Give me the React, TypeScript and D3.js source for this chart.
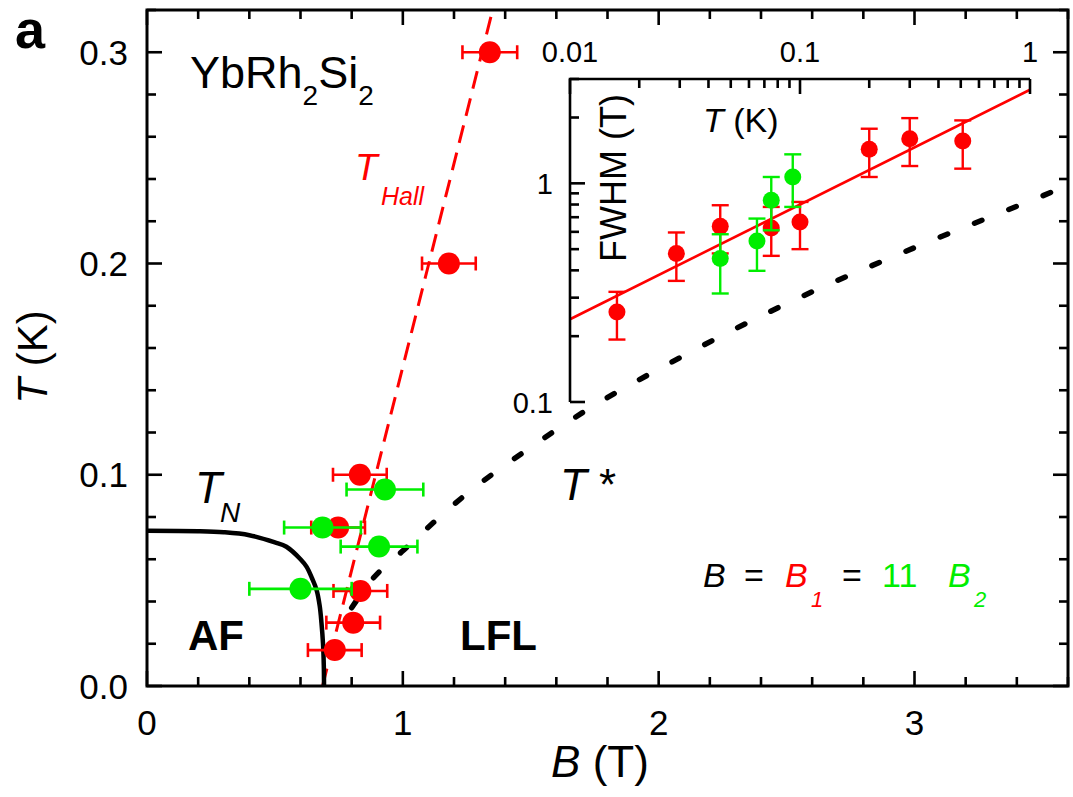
import React from "react";
import * as d3 from "d3";

// ---- Main panel data (B in T, T in K) ----
const redB = [0.734, 0.806, 0.834, 0.747, 0.832, 1.18, 1.34];
const redT = [0.017, 0.030, 0.045, 0.075, 0.100, 0.200, 0.300];
const redErr = [0.105, 0.105, 0.105, 0.105, 0.105, 0.105, 0.107];
const greenB = [0.600, 0.907, 0.686, 0.930];
const greenT = [0.046, 0.066, 0.075, 0.093];
const greenErr = [0.20, 0.15, 0.15, 0.15];

// T_N phase boundary
const tnB = [0, 0.2, 0.3, 0.4, 0.5, 0.545, 0.6, 0.624, 0.645, 0.663, 0.675, 0.682, 0.688, 0.691, 0.692];
const tnT = [0.0735, 0.0733, 0.0728, 0.0714, 0.068, 0.0659, 0.060, 0.0564, 0.051, 0.0454, 0.038, 0.0298, 0.020, 0.010, 0.0];
// T* crossover line
const tsB = [0.80, 0.87, 1.0, 1.25, 1.5, 1.75, 2.0, 2.5, 3.0, 3.5, 3.6];
const tsT = [0.037, 0.049, 0.064, 0.091, 0.113, 0.133, 0.150, 0.181, 0.2075, 0.232, 0.237];
// T_Hall line
const hallB = [0.686, 1.351];
const hallT = [0.0, 0.32];

// ---- Inset data (T in K, FWHM in T) ----
const inRedT = [0.016, 0.029, 0.045, 0.075, 0.1, 0.2, 0.3, 0.51];
const inRedF = [0.258, 0.478, 0.636, 0.625, 0.666, 1.43, 1.60, 1.56];
const inRedHi = [0.319, 0.596, 0.794, 0.780, 0.822, 1.777, 1.987, 1.94];
const inRedLo = [0.193, 0.358, 0.478, 0.466, 0.500, 1.069, 1.20, 1.167];
const inGreenT = [0.045, 0.065, 0.075, 0.093];
const inGreenF = [0.453, 0.545, 0.836, 1.069];
const inGreenHi = [0.585, 0.690, 1.069, 1.357];
const inGreenLo = [0.3135, 0.398, 0.610, 0.780];
const fitT = [0.01, 1];
const fitF = [0.239, 2.68];

// ticks
const xMajor = [0, 1, 2, 3];
const yMajor = [0, 0.1, 0.2, 0.3];
const yLabels = ["0.0", "0.1", "0.2", "0.3"];
const ixMajor = [0.01, 0.1, 1];
const ixLabels = ["0.01", "0.1", "1"];
const iyMajor = [0.1, 1];
const iyLabels = ["0.1", "1"];

const RED = "#ff0000";
const GREEN = "#00ee00";
const FONT = "'Liberation Sans', Arial, Helvetica, sans-serif";

export default function App() {
  const x = d3.scaleLinear().domain([0, 3.6]).range([147, 1068]);
  const y = d3.scaleLinear().domain([0, 0.32]).range([686, 10]);
  const ix = d3.scaleLog().domain([0.01, 1]).range([570, 1030]);
  const iy = d3.scaleLog().domain([0.1, 3]).range([402, 79]);

  const [x0, x1] = x.range();
  const [y0, y1] = y.range();

  const xMinor = d3.range(0, 3.6001, 0.2).filter((v) => !xMajor.some((m) => Math.abs(m - v) < 1e-6));
  const yMinor = d3.range(0, 0.3201, 0.02).filter((v) => !yMajor.some((m) => Math.abs(m - v) < 1e-6));

  const ixMinor: number[] = [];
  [0.01, 0.1].forEach((d) => { for (let k = 2; k <= 9; k++) ixMinor.push(d * k); });
  const iyMinor: number[] = [];
  for (let k = 2; k <= 9; k++) iyMinor.push(0.1 * k);
  [2, 3].forEach((k) => iyMinor.push(k));

  const line = d3.line<[number, number]>().x((d) => x(d[0])).y((d) => y(d[1]));
  const tnPath = d3.line<[number, number]>().x((d) => x(d[0])).y((d) => y(d[1])).curve(d3.curveCatmullRom)(tnB.map((b, i) => [b, tnT[i]]));
  const tsPath = d3.line<[number, number]>().x((d) => x(d[0])).y((d) => y(d[1])).curve(d3.curveMonotoneX)(tsB.map((b, i) => [b, tsT[i]]));
  const hallPath = line(hallB.map((b, i) => [b, hallT[i]]));
  const fitPath = d3.line<[number, number]>().x((d) => ix(d[0])).y((d) => iy(d[1]))(fitT.map((t, i) => [t, fitF[i]]));

  const MAJ = 15, MIN = 9;
  const capH = 7;

  const hErr = (b: number, t: number, e: number, color: string, key: string) => (
    <g key={key} stroke={color} strokeWidth={2.6} fill="none">
      <line x1={x(b - e)} x2={x(b + e)} y1={y(t)} y2={y(t)} />
      <line x1={x(b - e)} x2={x(b - e)} y1={y(t) - capH} y2={y(t) + capH} />
      <line x1={x(b + e)} x2={x(b + e)} y1={y(t) - capH} y2={y(t) + capH} />
    </g>
  );
  const vErr = (t: number, lo: number, hi: number, color: string, key: string) => (
    <g key={key} stroke={color} strokeWidth={2.4} fill="none">
      <line x1={ix(t)} x2={ix(t)} y1={iy(lo)} y2={iy(hi)} />
      <line x1={ix(t) - 8.5} x2={ix(t) + 8.5} y1={iy(lo)} y2={iy(lo)} />
      <line x1={ix(t) - 8.5} x2={ix(t) + 8.5} y1={iy(hi)} y2={iy(hi)} />
    </g>
  );

  return (
    <svg width={1073} height={797} style={{ position: "absolute", left: 0, top: 0, background: "#fff" }} fontFamily={FONT}>
      <defs>
        <clipPath id="mainClip">
          <rect x={x0} y={y1} width={x1 - x0} height={y0 - y1} />
        </clipPath>
      </defs>

      {/* lines */}
      <g clipPath="url(#mainClip)">
        <path d={tsPath || ""} fill="none" stroke="#000" strokeWidth={5.5} strokeDasharray="8 29" strokeLinecap="round" />
        <path d={hallPath || ""} fill="none" stroke={RED} strokeWidth={3} strokeDasharray="18 10" />
        <path d={tnPath || ""} fill="none" stroke="#000" strokeWidth={4.5} />
      </g>

      {/* main data */}
      {redB.map((b, i) => hErr(b, redT[i], redErr[i], RED, "re" + i))}
      {redB.map((b, i) => <circle key={"rc" + i} cx={x(b)} cy={y(redT[i])} r={11} fill={RED} />)}
      {greenB.map((b, i) => hErr(b, greenT[i], greenErr[i], GREEN, "ge" + i))}
      {greenB.map((b, i) => <circle key={"gc" + i} cx={x(b)} cy={y(greenT[i])} r={11} fill={GREEN} />)}

      {/* main frame */}
      <rect x={x0} y={y1} width={x1 - x0} height={y0 - y1} fill="none" stroke="#000" strokeWidth={3} />
      <g stroke="#000" strokeWidth={2.6}>
        {xMajor.map((v) => (
          <g key={"xM" + v}>
            <line x1={x(v)} x2={x(v)} y1={y0} y2={y0 - MAJ} />
            <line x1={x(v)} x2={x(v)} y1={y1} y2={y1 + MAJ} />
          </g>
        ))}
        {xMinor.map((v) => (
          <g key={"xm" + v}>
            <line x1={x(v)} x2={x(v)} y1={y0} y2={y0 - MIN} />
            <line x1={x(v)} x2={x(v)} y1={y1} y2={y1 + MIN} />
          </g>
        ))}
        {yMajor.map((v) => (
          <g key={"yM" + v}>
            <line x1={x0} x2={x0 + MAJ} y1={y(v)} y2={y(v)} />
            <line x1={x1} x2={x1 - MAJ} y1={y(v)} y2={y(v)} />
          </g>
        ))}
        {yMinor.map((v) => (
          <g key={"ym" + v}>
            <line x1={x0} x2={x0 + MIN} y1={y(v)} y2={y(v)} />
            <line x1={x1} x2={x1 - MIN} y1={y(v)} y2={y(v)} />
          </g>
        ))}
      </g>
      {xMajor.map((v) => (
        <text key={"xl" + v} x={x(v)} y={735} fontSize={35} textAnchor="middle">{v}</text>
      ))}
      {yMajor.map((v, i) => (
        <text key={"yl" + v} x={128} y={y(v) + 12.5} fontSize={35} textAnchor="end">{yLabels[i]}</text>
      ))}

      {/* axis titles */}
      <text x={600} y={777} fontSize={44} textAnchor="middle">
        <tspan fontStyle="italic">B</tspan> (T)
      </text>
      <text transform="translate(47,357) rotate(-90)" fontSize={42} textAnchor="middle">
        <tspan fontStyle="italic">T</tspan> (K)
      </text>

      {/* panel letter & annotations */}
      <text x={15} y={48} fontSize={54} fontWeight="bold">a</text>
      <text x={190} y={88} fontSize={45}>
        YbRh<tspan fontSize={28} dy={17}>2</tspan><tspan dy={-17}>Si</tspan><tspan fontSize={28} dy={17}>2</tspan>
      </text>
      <text x={355} y={180} fontSize={37} fill={RED} fontStyle="italic">T</text>
      <text x={381} y={205} fontSize={25} fill={RED} fontStyle="italic">Hall</text>
      <text x={195} y={503} fontSize={44} fontStyle="italic">T</text>
      <text x={220} y={522} fontSize={28} fontStyle="italic">N</text>
      <text x={560} y={500} fontSize={44}><tspan fontStyle="italic">T</tspan> *</text>
      <text x={188} y={650} fontSize={42} fontWeight="bold">AF</text>
      <text x={460} y={650} fontSize={42} fontWeight="bold">LFL</text>

      {/* B = B1 = 11 B2 */}
      <text y={587} fontSize={34}>
        <tspan x={703} fontStyle="italic">B</tspan>
        <tspan x={744}>=</tspan>
        <tspan x={785} fontStyle="italic" fill={RED}>B</tspan>
        <tspan x={811} dy={20} fontSize={22} fontStyle="italic" fill={RED}>1</tspan>
        <tspan x={842} dy={-20}>=</tspan>
        <tspan x={882} fill={GREEN}>11</tspan>
        <tspan x={948} fontStyle="italic" fill={GREEN}>B</tspan>
        <tspan x={974} dy={20} fontSize={22} fontStyle="italic" fill={GREEN}>2</tspan>
      </text>

      {/* inset */}
      <path d={fitPath || ""} fill="none" stroke={RED} strokeWidth={2.6} />
      {inRedT.map((t, i) => vErr(t, inRedLo[i], inRedHi[i], RED, "ire" + i))}
      {inRedT.map((t, i) => <circle key={"irc" + i} cx={ix(t)} cy={iy(inRedF[i])} r={8.5} fill={RED} />)}
      {inGreenT.map((t, i) => vErr(t, inGreenLo[i], inGreenHi[i], GREEN, "ige" + i))}
      {inGreenT.map((t, i) => <circle key={"igc" + i} cx={ix(t)} cy={iy(inGreenF[i])} r={8.5} fill={GREEN} />)}

      <g stroke="#000" strokeWidth={2.6} fill="none">
        <polyline points={`${ix.range()[0]},${iy.range()[0]} ${ix.range()[0]},${iy.range()[1]} ${ix.range()[1]},${iy.range()[1]}`} />
        {ixMajor.map((v) => <line key={"ixM" + v} x1={ix(v)} x2={ix(v)} y1={iy.range()[1]} y2={iy.range()[1] + 15} />)}
        {ixMinor.map((v) => <line key={"ixm" + v} x1={ix(v)} x2={ix(v)} y1={iy.range()[1]} y2={iy.range()[1] + 9} />)}
        {iyMajor.map((v) => <line key={"iyM" + v} x1={ix.range()[0]} x2={ix.range()[0] + 15} y1={iy(v)} y2={iy(v)} />)}
        {iyMinor.map((v) => <line key={"iym" + v} x1={ix.range()[0]} x2={ix.range()[0] + 9} y1={iy(v)} y2={iy(v)} />)}
      </g>
      {ixMajor.map((v, i) => (
        <text key={"ixl" + v} x={ix(v)} y={62} fontSize={29} textAnchor="middle">{ixLabels[i]}</text>
      ))}
      {iyMajor.map((v, i) => (
        <text key={"iyl" + v} x={553} y={iy(v) + 11} fontSize={29} textAnchor="end">{iyLabels[i]}</text>
      ))}
      <text x={703} y={132} fontSize={34}><tspan fontStyle="italic">T</tspan> (K)</text>
      <text transform="translate(626,178) rotate(-90)" fontSize={36} textAnchor="middle">FWHM (T)</text>
    </svg>
  );
}
